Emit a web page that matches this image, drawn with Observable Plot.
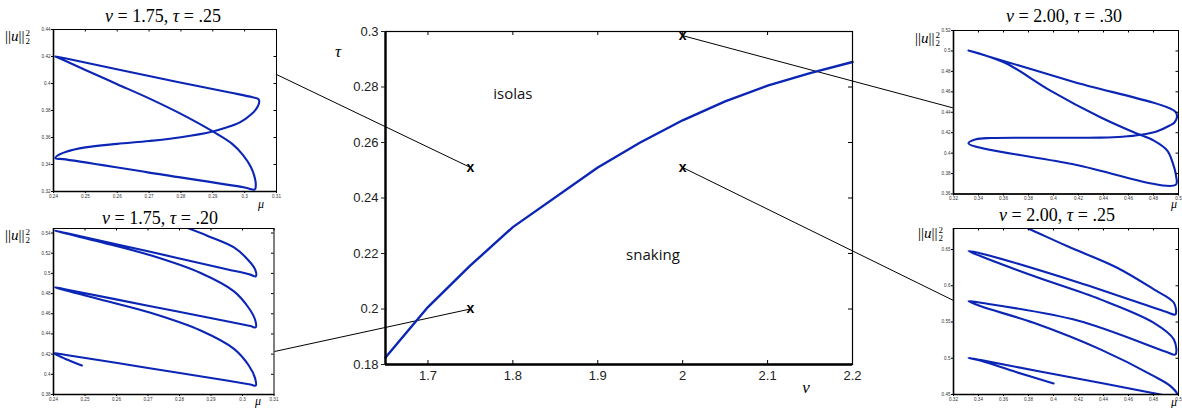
<!DOCTYPE html>
<html>
<head>
<meta charset="utf-8">
<script src="https://cdn.jsdelivr.net/npm/d3@7"></script>
<script src="https://cdn.jsdelivr.net/npm/@observablehq/plot@0.6"></script>
<style>
  body { margin: 0; background: #fff; }
  #fig { position: relative; width: 1182px; height: 408px; background: #fff; overflow: hidden; }
  #fig > svg, #fig > div { position: absolute; }
  .math { font-family: "Liberation Serif", "DejaVu Serif", serif; color: #000; white-space: nowrap; }
  .ttl { font-size: 18px; transform: translate(-50%, -50%); }
  .ulab { font-size: 15px; transform: translate(0, -50%); display: flex; align-items: center; }
  .stack { display: inline-flex; flex-direction: column; font-size: 9px; line-height: 8px; margin-left: 1px; }
  .axlab { font-size: 17px; font-style: italic; transform: translate(-50%, -50%); }
  .mulab { font-size: 12px; font-style: italic; transform: translate(-50%, -50%); }
</style>
</head>
<body>
<div id="fig"></div>
<script>
// ---- phase diagram: boundary between isolas and snaking in the (nu, tau) plane
const nu = [1.65, 1.70, 1.75, 1.80, 1.90, 1.95, 2.00, 2.05, 2.10, 2.15, 2.20];
const tauBoundary = [0.1825, 0.2007, 0.2157, 0.2295, 0.2510, 0.2600, 0.2680, 0.2748, 0.2805, 0.2850, 0.2890];

// sampled parameter pairs (marked with x), in inset order: TL, BL, TR, BR
const sampleNu = [1.75, 1.75, 2.00, 2.00];
const sampleTau = [0.251, 0.200, 0.2985, 0.251];

const regionText = ["isolas", "snaking"];
const regionNu = [1.800, 1.965];
const regionTau = [0.2775, 0.2195];

const nuTicks = [1.7, 1.8, 1.9, 2.0, 2.1, 2.2];
const tauTicks = [0.18, 0.20, 0.22, 0.24, 0.26, 0.28, 0.30];

// ---- bifurcation diagrams (mu vs ||u||_2^2)
// nu = 1.75, tau = .25 : closed isola
const tlMu = [0.2406, 0.2440, 0.2700, 0.2950, 0.3025, 0.3043, 0.3046, 0.3040, 0.3020, 0.2985, 0.2940, 0.2900, 0.2800, 0.2700, 0.2600, 0.2500, 0.2440, 0.2412, 0.2406,
              0.2430, 0.2700, 0.3000, 0.3032, 0.3035, 0.3032, 0.3020, 0.2995, 0.2960, 0.2900, 0.2800, 0.2700, 0.2600, 0.2500, 0.2440, 0.2406];
const tlU  = [0.4200, 0.4185, 0.4055, 0.3935, 0.3898, 0.3885, 0.3865, 0.3825, 0.3770, 0.3712, 0.3672, 0.3645, 0.3602, 0.3574, 0.3553, 0.3527, 0.3495, 0.3465, 0.3445,
              0.3440, 0.3340, 0.3230, 0.3215, 0.3245, 0.3300, 0.3380, 0.3470, 0.3555, 0.3645, 0.3775, 0.3890, 0.3995, 0.4100, 0.4165, 0.4200];

// nu = 1.75, tau = .20 : snaking branch
const blMu = [0.2490, 0.2440, 0.2412, 0.2402, 0.2440, 0.2700, 0.2950, 0.3025, 0.3042,
              0.3040, 0.3020, 0.2973, 0.2867, 0.2708, 0.2549, 0.2440, 0.2405,
              0.2440, 0.2700, 0.2950, 0.3025, 0.3042,
              0.3040, 0.3020, 0.2973, 0.2867, 0.2708, 0.2549, 0.2440, 0.2405,
              0.2440, 0.2700, 0.2950, 0.3025, 0.3042,
              0.3040, 0.3015, 0.2973, 0.2888, 0.2819, 0.2790];
const blU  = [0.4087, 0.4150, 0.4190, 0.4209, 0.4192, 0.4063, 0.3938, 0.3899, 0.3889,
              0.3960, 0.4087, 0.4252, 0.4434, 0.4609, 0.4741, 0.4830, 0.4862,
              0.4841, 0.4680, 0.4525, 0.4478, 0.4466,
              0.4540, 0.4657, 0.4822, 0.5004, 0.5179, 0.5311, 0.5395, 0.5424,
              0.5399, 0.5219, 0.5042, 0.4988, 0.4971,
              0.5040, 0.5143, 0.5258, 0.5374, 0.5457, 0.5490];

// nu = 2.00, tau = .30 : closed isola
const trMu = [0.3320, 0.4150, 0.4975, 0.4988, 0.4968, 0.4930, 0.4830, 0.4700, 0.4550, 0.4375, 0.3975, 0.3500, 0.3380, 0.3320,
              0.4150, 0.4978, 0.4980, 0.4955, 0.4910, 0.4803, 0.4642, 0.4375, 0.3975, 0.3628, 0.3414, 0.3320];
const trU  = [0.5004, 0.4702, 0.4405, 0.4355, 0.4300, 0.4270, 0.4215, 0.4180, 0.4160, 0.4152, 0.4150, 0.4148, 0.4135, 0.4096,
              0.3893, 0.3690, 0.3780, 0.3900, 0.4025, 0.4122, 0.4204, 0.4351, 0.4612, 0.4874, 0.4972, 0.5004];

// nu = 2.00, tau = .25 : snaking branch
const brMu = [0.4001, 0.3700, 0.3420, 0.3320, 0.3420, 0.4200, 0.4856, 0.4975,
              0.4990, 0.4936, 0.4803, 0.4375, 0.3841, 0.3414, 0.3320,
              0.3420, 0.4200, 0.4900, 0.4975,
              0.4963, 0.4803, 0.4375, 0.3841, 0.3414, 0.3320,
              0.3420, 0.4200, 0.4900, 0.4975,
              0.4963, 0.4803, 0.4509, 0.4108, 0.3801, 0.3700];
const brU  = [0.4652, 0.4810, 0.4965, 0.5006, 0.4974, 0.4717, 0.4500, 0.4458,
              0.4500, 0.4615, 0.4753, 0.5122, 0.5489, 0.5720, 0.5789,
              0.5766, 0.5518, 0.5090, 0.5052,
              0.5260, 0.5489, 0.5812, 0.6134, 0.6410, 0.6479,
              0.6446, 0.6046, 0.5641, 0.5605,
              0.5765, 0.5950, 0.6249, 0.6548, 0.6787, 0.6860];

const insetXTicksA = [0.24, 0.25, 0.26, 0.27, 0.28, 0.29, 0.30, 0.31];
const insetXTicksB = [0.32, 0.34, 0.36, 0.38, 0.40, 0.42, 0.44, 0.46, 0.48, 0.50];
const tlYTicks = [0.32, 0.34, 0.36, 0.38, 0.40, 0.42, 0.44];
const blYTicks = [0.38, 0.40, 0.42, 0.44, 0.46, 0.48, 0.50, 0.52, 0.54];
const trYTicks = [0.36, 0.38, 0.40, 0.42, 0.44, 0.46, 0.48, 0.50, 0.52];
const brYTicks = [0.45, 0.50, 0.55, 0.60, 0.65];

const titles = [
  {nu: "1.75", tau: ".25"}, {nu: "1.75", tau: ".20"},
  {nu: "2.00", tau: ".30"}, {nu: "2.00", tau: ".25"}
];

// ---- layout
const W = 1182, H = 408;
const M = {left: 385, right: 330, top: 31, bottom: 44};
const PW = W - M.left - M.right, PH = H - M.top - M.bottom;
const BLUE = "#0b25b5";
const SANS = "'Liberation Sans', Helvetica, Arial, sans-serif";

// inset frames: [left, top, width, height] in page pixels, and the point on the frame the leader line reaches
const insets = [
  {frame: [53, 29, 223, 162], anchor: [276, 74], mu: tlMu, u: tlU, xd: [0.24, 0.31], yd: [0.32, 0.44], xt: insetXTicksA, yt: tlYTicks,
   title: [163, 16], ulab: [5, 36], mulab: [261, 204]},
  {frame: [53, 228, 220.5, 166], anchor: [274, 351], mu: blMu, u: blU, xd: [0.24, 0.31], yd: [0.38, 0.5445], xt: insetXTicksA, yt: blYTicks,
   title: [160, 218], ulab: [5, 235], mulab: [258, 401]},
  {frame: [953, 30, 225, 163.5], anchor: [953, 107.5], mu: trMu, u: trU, xd: [0.32, 0.50], yd: [0.36, 0.52], xt: insetXTicksB, yt: trYTicks,
   title: [1064, 16], ulab: [915, 38], mulab: [1174, 204]},
  {frame: [953, 227.5, 225, 166], anchor: [953, 300], mu: brMu, u: brU, xd: [0.32, 0.50], yd: [0.45, 0.679], xt: insetXTicksB, yt: brYTicks,
   title: [1057, 215], ulab: [918, 233], mulab: [1174, 402]}
];

const fig = document.getElementById("fig");

// pixel <-> data mapping of the main panel, used to aim the leader lines at the insets
const px = d3.scaleLinear([1.65, 2.2], [M.left, W - M.right]);
const py = d3.scaleLinear([0.18, 0.30], [H - M.bottom, M.top]);

const curve = nu.map((n, i) => ({nu: n, tau: tauBoundary[i]}));
const samples = sampleNu.map((n, i) => ({
  nu: n, tau: sampleTau[i],
  nu2: px.invert(insets[i].anchor[0]), tau2: py.invert(insets[i].anchor[1])
}));
const regions = regionText.map((t, i) => ({text: t, nu: regionNu[i], tau: regionTau[i]}));

const main = Plot.plot({
  width: W, height: H,
  marginLeft: M.left, marginRight: M.right, marginTop: M.top, marginBottom: M.bottom,
  x: {domain: [1.65, 2.2]},
  y: {domain: [0.18, 0.30]},
  style: {background: "#fff", fontFamily: SANS, fontSize: "13px", color: "#222", overflow: "visible"},
  marks: [
    Plot.link(samples, {x1: "nu", y1: "tau", x2: "nu2", y2: "tau2", stroke: "#000", strokeWidth: 1}),
    Plot.line(curve, {x: "nu", y: "tau", stroke: BLUE, strokeWidth: 2.4}),
    Plot.frame({stroke: "#000", strokeWidth: 1.2}),
    Plot.ruleX([1.65], {stroke: "#000", strokeWidth: 2.4}),
    Plot.ruleY([0.18], {stroke: "#000", strokeWidth: 2.4}),
    Plot.axisY(tauTicks, {anchor: "left", tickSize: 4, tickPadding: 3, tickFormat: "~g", label: null}),
    Plot.axisX(nuTicks, {anchor: "bottom", tickSize: 0, tickPadding: 6, tickFormat: "~g", label: null}),
    Plot.tickX(nuTicks, {x: d => d, insetBottom: PH - 4, stroke: "#000"}),
    Plot.tickX(nuTicks, {x: d => d, insetTop: PH - 4, stroke: "#000"}),
    Plot.tickY(tauTicks, {y: d => d, insetLeft: PW - 4, stroke: "#000"}),
    Plot.text(samples, {x: "nu", y: "tau", text: () => "x", fontWeight: "bold", fontSize: 14, fill: "#000"}),
    Plot.text(regions, {x: "nu", y: "tau", text: "text", fontSize: 15, fontFamily: "'Open Sans', sans-serif", fill: "#111"})
  ]
});
main.style.left = "0px";
main.style.top = "0px";
fig.appendChild(main);

function addText(cls, html, x, y) {
  const d = document.createElement("div");
  d.className = cls;
  d.innerHTML = html;
  d.style.left = x + "px";
  d.style.top = y + "px";
  fig.appendChild(d);
}

addText("math axlab", "τ", 338, 52);
addText("math axlab", "ν", 806, 388);

// inset panels
const mL = 24, mT = 4, mR = 3, mB = 12;
insets.forEach((o, k) => {
  const [fx, fy, fw, fh] = o.frame;
  const pts = o.mu.map((m, i) => ({mu: m, u: o.u[i]}));
  const p = Plot.plot({
    width: fw + mL + mR, height: fh + mT + mB,
    marginLeft: mL, marginRight: mR, marginTop: mT, marginBottom: mB,
    x: {domain: o.xd},
    y: {domain: o.yd},
    style: {background: "transparent", fontFamily: SANS, fontSize: "4.6px", color: "#333", overflow: "visible"},
    marks: [
      Plot.line(pts, {x: "mu", y: "u", curve: "catmull-rom", stroke: BLUE, strokeWidth: 2.1, clip: true}),
      Plot.frame({stroke: "#000", strokeWidth: 1}),
      Plot.ruleX([o.xd[0]], {stroke: "#000", strokeWidth: 1.6}),
      Plot.ruleY([o.yd[0]], {stroke: "#000", strokeWidth: 1.6}),
      Plot.axisX(o.xt, {tickSize: 2, tickPadding: 1, tickFormat: "~g", label: null, stroke: "#000"}),
      Plot.axisY(o.yt, {tickSize: 2, tickPadding: 1, tickFormat: "~g", label: null, stroke: "#000"}),
      Plot.tickX(o.xt, {x: d => d, insetBottom: fh - 2.5, stroke: "#000"}),
      Plot.tickY(o.yt, {y: d => d, insetLeft: fw - 2.5, stroke: "#000"})
    ]
  });
  p.style.left = (fx - mL) + "px";
  p.style.top = (fy - mT) + "px";
  fig.appendChild(p);

  const t = titles[k];
  addText("math ttl", `<i>ν</i> = ${t.nu}, <i>τ</i> = ${t.tau}`, o.title[0], o.title[1]);
  addText("math ulab", `||<i>u</i>||<span class="stack"><span>2</span><span>2</span></span>`, o.ulab[0], o.ulab[1]);
  addText("math mulab", "μ", o.mulab[0], o.mulab[1]);
});
</script>
</body>
</html>
